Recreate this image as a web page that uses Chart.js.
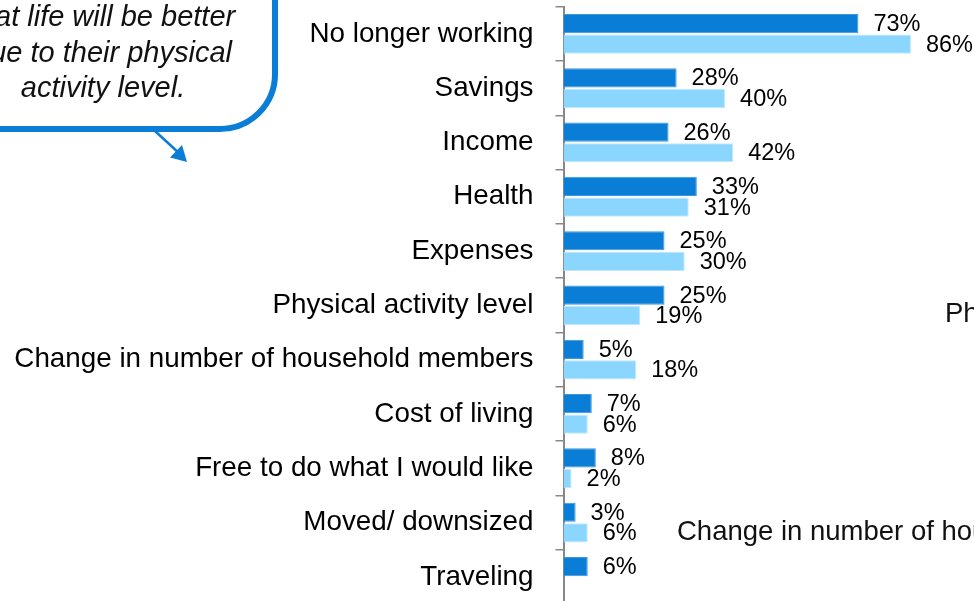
<!DOCTYPE html>
<html>
<head>
<meta charset="utf-8">
<script src="https://cdn.jsdelivr.net/npm/chart.js@4"></script>
<style>
  html, body { margin: 0; padding: 0; background: #fff; }
  body { width: 974px; height: 601px; overflow: hidden; position: relative; font-family: 'Liberation Sans', Arial, sans-serif; }
  #wrap { position: absolute; left: 0; top: 0; width: 974px; height: 620px; }
  .callout {
    position: absolute; left: -70px; top: -60px; width: 336px; height: 180px;
    border: 6px solid #0a7ed6; border-radius: 58px; background: #fff;
  }
  .callout-text {
    position: absolute; left: -97px; top: -1px; width: 400px; text-align: center;
    font-style: italic; font-size: 29px; line-height: 35.5px; color: #111;
  }
  .side { position: absolute; font-size: 27.5px; line-height: 27.5px; color: #111; white-space: nowrap; }
  svg { position: absolute; left: 0; top: 0; }
</style>
</head>
<body>
<div id="wrap"><canvas id="barChart"></canvas></div>

<div class="callout"></div>
<div class="callout-text">that life will be better<br>due to their physical<br>activity level.</div>
<svg width="974" height="601">
  <line x1="155" y1="131" x2="180" y2="154" stroke="#0a7ed6" stroke-width="2.5"/>
  <polygon points="187,162 170,157.5 182,145" fill="#0a7ed6"/>
</svg>

<div class="side" style="left:945px; top:299px;">Physical activity level</div>
<div class="side" style="left:677px; top:517px;">Change in number of household members</div>

<script>
const categories = [
  'No longer working', 'Savings', 'Income', 'Health', 'Expenses',
  'Physical activity level', 'Change in number of household members',
  'Cost of living', 'Free to do what I would like', 'Moved/ downsized', 'Traveling'
];
const darkValues = [73, 28, 26, 33, 25, 25, 5, 7, 8, 3, 6];
const lightValues = [86, 40, 42, 31, 30, 19, 18, 6, 2, 6, null];

// writes "NN%" just past the end of every bar
const valueLabels = {
  id: 'valueLabels',
  afterDatasetsDraw(chart) {
    const c = chart.ctx;
    c.save();
    c.font = "23.5px 'Liberation Sans', Arial, sans-serif";
    c.fillStyle = '#000';
    c.textBaseline = 'middle';
    c.textAlign = 'left';
    chart.data.datasets.forEach((ds, i) => {
      chart.getDatasetMeta(i).data.forEach((bar, j) => {
        const v = ds.data[j];
        if (v == null) return;
        c.fillText(v + '%', bar.x + 15, bar.y + 1);
      });
    });
    c.restore();
  }
};

Chart.defaults.font.family = "'Liberation Sans', Arial, sans-serif";

const ctx = document.getElementById('barChart');

new Chart(ctx, {
  type: 'bar',
  data: {
    labels: categories,
    datasets: [
      {
        data: darkValues,
        backgroundColor: '#0a7ed6',
        borderColor: '#3d97dd',
        borderWidth: 1,
        categoryPercentage: 0.76,
        barPercentage: 0.93
      },
      {
        data: lightValues,
        backgroundColor: '#8ad6ff',
        borderColor: '#bfe8ff',
        borderWidth: 1,
        categoryPercentage: 0.76,
        barPercentage: 0.93
      }
    ]
  },
  options: {
    indexAxis: 'y',
    responsive: true,
    maintainAspectRatio: false,
    animation: false,
    layout: { padding: { top: 6.7, bottom: 16, left: 0, right: 6.5 } },
    plugins: {
      legend: { display: false },
      tooltip: { enabled: false }
    },
    scales: {
      x: { display: false, min: 0, max: 100 },
      y: {
        offset: true,
        // fixed axis width, and no extra room above/below for the labels
        afterFit(scale) {
          scale.width = 563.5;
          scale.paddingTop = 0;
          scale.paddingBottom = 0;
        },
        grid: {
          offset: true,
          drawOnChartArea: false,
          drawTicks: true,
          tickLength: 8,
          color: '#888',
          lineWidth: 1.5
        },
        border: { display: true, color: '#888', width: 2 },
        ticks: {
          color: '#000',
          padding: 22,
          font: { size: 27.8 }
        }
      }
    }
  },
  plugins: [valueLabels]
});
</script>
</body>
</html>
